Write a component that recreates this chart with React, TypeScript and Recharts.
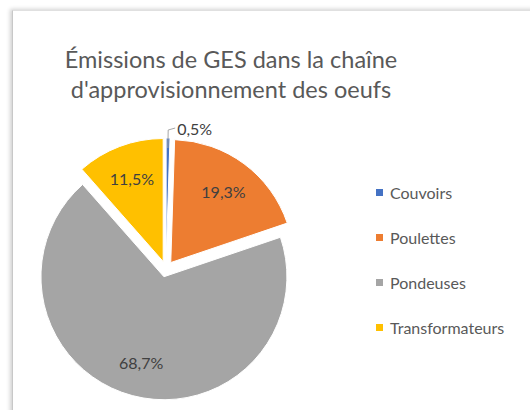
import { PieChart, Pie, Cell, Sector, Legend } from "recharts";

const categories = ["Couvoirs", "Poulettes", "Pondeuses", "Transformateurs"];
const shares = [0.5, 19.3, 68.7, 11.5];
const colors = ["#4472C4", "#ED7D31", "#A5A5A5", "#FFC000"];
const titleLines = ["Émissions de GES dans la chaîne", "d'approvisionnement des oeufs"];

const data = categories.map((name, i) => ({ name, value: shares[i] }));

const RADIAN = Math.PI / 180;
const EXPLODE = 8;
const FONT = "Lato, 'Open Sans', sans-serif";

const fmt = (v: number) => v.toFixed(1).replace(".", ",") + "%";

// every slice pushed out along its bisector (excel "explosion")
const ExplodedSlice = (props: any) => {
  const { cx, cy, midAngle } = props;
  const dx = EXPLODE * Math.cos(-midAngle * RADIAN);
  const dy = EXPLODE * Math.sin(-midAngle * RADIAN);
  return <Sector {...props} cx={cx + dx} cy={cy + dy} />;
};

const renderLabel = (props: any) => {
  const { cx, cy, midAngle, outerRadius, value } = props;
  const cos = Math.cos(-midAngle * RADIAN);
  const sin = Math.sin(-midAngle * RADIAN);
  const ox = cx + EXPLODE * cos;
  const oy = cy + EXPLODE * sin;
  if (value < 2) {
    // tiny slice: label outside with an elbow leader line
    const x1 = ox + (outerRadius - 10) * cos;
    const y1 = oy + (outerRadius - 10) * sin;
    const x2 = ox + (outerRadius + 8) * cos;
    const y2 = oy + (outerRadius + 8) * sin;
    return (
      <g>
        <polyline
          points={`${x1},${y1} ${x2},${y2} ${x2 + 7},${y2 - 2}`}
          fill="none"
          stroke="#a6a6a6"
          strokeWidth={1}
        />
        <text x={x2 + 9} y={y2 - 2} fill="#404040" fontSize={16} fontFamily={FONT} dominantBaseline="central">
          {fmt(value)}
        </text>
      </g>
    );
  }
  const r = outerRadius * 0.72;
  return (
    <text
      x={ox + r * cos}
      y={oy + r * sin}
      fill="#404040"
      fontSize={16}
      fontFamily={FONT}
      textAnchor="middle"
      dominantBaseline="central"
    >
      {fmt(value)}
    </text>
  );
};

const renderLegend = () => (
  <div style={{ fontFamily: FONT }}>
    {categories.map((c, i) => (
      <div key={c} style={{ display: "flex", alignItems: "center", height: 45 }}>
        <span style={{ width: 7, height: 7, background: colors[i], marginRight: 7 }} />
        <span style={{ fontSize: 16, color: "#595959" }}>{c}</span>
      </div>
    ))}
  </div>
);

export default function App() {
  return (
    <div style={{ position: "fixed", left: 0, top: 0, width: 530, height: 410, background: "#fff", overflow: "hidden" }}>
      <div
        style={{
          position: "absolute",
          left: 12,
          top: 10,
          width: 540,
          height: 420,
          borderLeft: "1px solid #c8c8c8",
          borderTop: "1px solid #e0e0e0",
          boxShadow: "-2px -1px 4px rgba(0,0,0,0.18)",
        }}
      />
      <div
        style={{
          position: "absolute",
          left: 0,
          top: 44,
          width: 462,
          textAlign: "center",
          fontFamily: FONT,
          fontSize: 23.5,
          lineHeight: "30px",
          color: "#595959",
        }}
      >
        {titleLines.map((t) => (
          <div key={t}>{t}</div>
        ))}
      </div>
      <div style={{ position: "absolute", left: 0, top: 0 }}>
        <PieChart width={530} height={410}>
          <Pie
            data={data}
            dataKey="value"
            nameKey="name"
            cx={161}
            cy={264}
            outerRadius={123}
            startAngle={90}
            endAngle={-270}
            stroke="#fff"
            strokeWidth={1}
            shape={ExplodedSlice}
            activeShape={ExplodedSlice}
            label={renderLabel}
            labelLine={false}
            isAnimationActive={false}
          >
            {data.map((d, i) => (
              <Cell key={d.name} fill={colors[i]} />
            ))}
          </Pie>
          <Legend
            layout="vertical"
            content={renderLegend}
            wrapperStyle={{ left: 376, top: 170, width: 150 }}
          />
        </PieChart>
      </div>
    </div>
  );
}
